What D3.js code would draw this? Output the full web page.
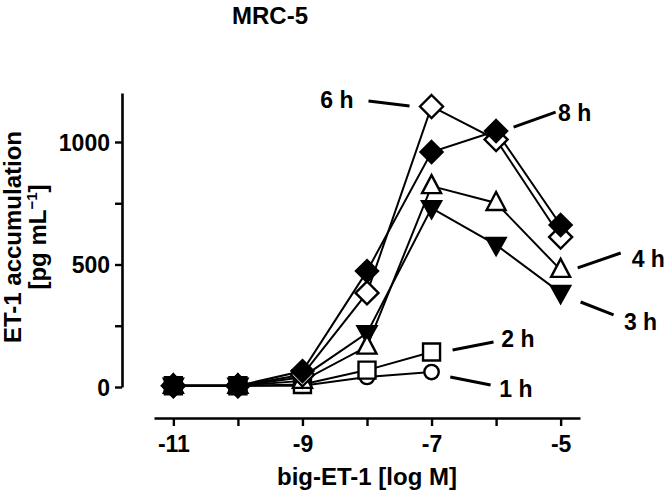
<!DOCTYPE html>
<html>
<head>
<meta charset="utf-8">
<script src="https://cdn.jsdelivr.net/npm/d3@7"></script>
<style>
  body { margin: 0; background: #fff; }
  text { font-family: "Liberation Sans", Arial, sans-serif; font-weight: bold; fill: #000; }
</style>
</head>
<body>
<div id="chart"></div>
<script>
var width = 668, height = 494;

// big-ET-1 concentration, log M
var doses = [-11, -10, -9, -8, -7, -6, -5];
var xTicks = [-11, -10, -9, -8, -7, -6, -5];
var xTickLabels = ["-11", "", "-9", "", "-7", "", "-5"];
var yTicks = [0, 250, 500, 750, 1000];
var yTickLabels = ["0", "", "500", "", "1000"];

// ET-1 accumulation, pg/mL
var names = ["1 h", "2 h", "3 h", "4 h", "6 h", "8 h"];
var shapes = ["circle", "square", "triDown", "triUp", "diamondOpen", "diamondFilled"];
var h1 = [5, 5, 5, 41, 61];
var h2 = [5, 5, 10, 69, 143];
var h3 = [5, 5, 40, 220, 730, 580, 384];
var h4 = [5, 5, 25, 165, 820, 751, 478];
var h6 = [5, 5, 50, 384, 1145, 1010, 612];
var h8 = [5, 5, 65, 473, 959, 1045, 661];
var values = [h1, h2, h3, h4, h6, h8];

// label leader lines, in data units: [x1, y1, x2, y2], text anchor point [x, y]
var leaders = [
  [-6.71, 41, -6.085, 8],
  [-6.674, 151, -6.04, 184],
  [-4.69, 347, -4.18, 294],
  [-4.736, 486, -4.07, 547],
  [-7.977, 1167, -7.341, 1147],
  [-5.729, 1061, -5.078, 1122]
];
var labelPos = [[-5.95, -40], [-5.92, 163], [-4.02, 233], [-3.9, 490], [-8.21, 1139], [-5.04, 1086]];
var labelAnchor = ["start", "start", "start", "start", "end", "start"];

var svg = d3.select("#chart").append("svg")
    .attr("width", width)
    .attr("height", height);

var x = d3.scaleLinear().domain([-11.3, -4.7]).range([154, 580]);
var y = d3.scaleLinear().domain([0, 1200]).range([387, 93]);

// title
svg.append("text")
    .attr("x", 270).attr("y", 24)
    .attr("text-anchor", "middle")
    .attr("font-size", 24)
    .text("MRC-5");

// axes
var xAxis = svg.append("g")
    .attr("transform", "translate(0,418)")
    .call(d3.axisBottom(x).tickValues(xTicks).tickSize(8).tickSizeOuter(0)
      .tickFormat(function(d, i) { return xTickLabels[i]; }));
var yAxis = svg.append("g")
    .attr("transform", "translate(122,0)")
    .call(d3.axisLeft(y).tickValues(yTicks).tickSize(7).tickSizeOuter(0)
      .tickFormat(function(d, i) { return yTickLabels[i]; }));

[xAxis, yAxis].forEach(function(a) {
  a.select(".domain").attr("stroke", "#000").attr("stroke-width", 2.6);
  a.selectAll(".tick line").attr("stroke", "#000").attr("stroke-width", 2.4);
  a.selectAll(".tick text").attr("font-size", 23).attr("font-family", null).attr("fill", "#000");
});
xAxis.selectAll(".tick text").attr("dy", "1.0em");
yAxis.selectAll(".tick text").attr("x", -12).attr("dy", "0.36em");

// axis titles
svg.append("text")
    .attr("x", 367).attr("y", 485)
    .attr("text-anchor", "middle")
    .attr("font-size", 24)
    .text("big-ET-1 [log M]");

var yt = svg.append("g").attr("transform", "translate(21,237) rotate(-90)");
yt.append("text")
    .attr("text-anchor", "middle")
    .attr("font-size", 24)
    .text("ET-1 accumulation");
var yt2 = yt.append("text")
    .attr("y", 25)
    .attr("text-anchor", "middle")
    .attr("font-size", 24);
yt2.append("tspan").text("[pg mL");
yt2.append("tspan").attr("font-size", 15).attr("dy", -9).text("\u22121");
yt2.append("tspan").attr("dy", 9).text("]");

// series lines
var line = d3.line()
    .x(function(d, i) { return x(doses[i]); })
    .y(function(d) { return y(d); });

svg.append("g").selectAll("path")
    .data(values)
    .enter().append("path")
    .attr("d", line)
    .attr("fill", "none")
    .attr("stroke", "#000")
    .attr("stroke-width", 2);

// marker shapes
function shapePath(s) {
  if (s === "circle") return d3.symbol().type(d3.symbolCircle).size(Math.PI * 7.2 * 7.2)();
  if (s === "square") return "M-8.5,-8.5H8.5V8.5H-8.5Z";
  if (s === "triUp") return "M0,-11L9.5,7L-9.5,7Z";
  if (s === "triDown") return "M0,10L9.5,-7L-9.5,-7Z";
  if (s === "diamondOpen") return "M0,-11.5L11.5,0L0,11.5L-11.5,0Z";
  return "M0,-11L11,0L0,11L-11,0Z";
}
function shapeFill(s) {
  return (s === "triDown" || s === "diamondFilled") ? "#000" : "#fff";
}

values.forEach(function(vals, k) {
  svg.append("g").selectAll("path")
      .data(vals)
      .enter().append("path")
      .attr("transform", function(d, i) { return "translate(" + x(doses[i]) + "," + y(d) + ")"; })
      .attr("d", shapePath(shapes[k]))
      .attr("fill", shapeFill(shapes[k]))
      .attr("stroke", "#000")
      .attr("stroke-width", 2.4)
      .attr("stroke-linejoin", "miter");
});

// labels with leader lines
svg.append("g").selectAll("line")
    .data(leaders)
    .enter().append("line")
    .attr("x1", function(d) { return x(d[0]); })
    .attr("y1", function(d) { return y(d[1]); })
    .attr("x2", function(d) { return x(d[2]); })
    .attr("y2", function(d) { return y(d[3]); })
    .attr("stroke", "#000")
    .attr("stroke-width", 3);

svg.append("g").selectAll("text")
    .data(names)
    .enter().append("text")
    .attr("x", function(d, i) { return x(labelPos[i][0]); })
    .attr("y", function(d, i) { return y(labelPos[i][1]); })
    .attr("text-anchor", function(d, i) { return labelAnchor[i]; })
    .attr("font-size", 23)
    .text(function(d) { return d; });
</script>
</body>
</html>
